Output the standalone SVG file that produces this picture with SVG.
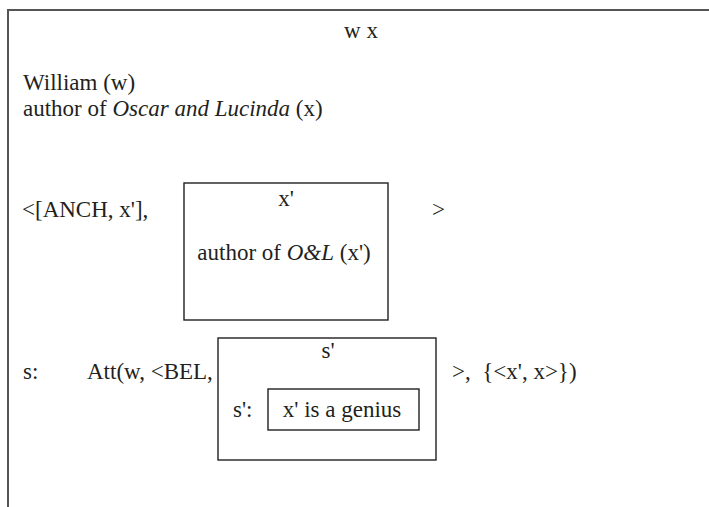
<svg xmlns="http://www.w3.org/2000/svg" width="709" height="507" viewBox="0 0 709 507">
<style>
text{font-family:"Liberation Serif","Times New Roman",serif;font-size:23px;fill:#231f20}
.i{font-style:italic}
.frame{fill:none;stroke:#555;stroke-width:2}
.box{fill:none;stroke:#231f20;stroke-width:1.4}
</style>
<rect width="709" height="507" fill="#fff"/>
<g id="frame">
<polyline class="frame" points="8,507 8,10 709,10"/>
<text x="361" y="38" text-anchor="middle">w x</text>
<text x="23" y="90">William (w)</text>
<text x="23" y="116">author of <tspan class="i">Oscar and Lucinda</tspan> (x)</text>
</g>
<g id="anchor">
<text x="22" y="217">&lt;[ANCH, x'],</text>
<text x="432" y="217">&gt;</text>
</g>
<g id="drs-x">
<rect class="box" x="184" y="183" width="204" height="137"/>
<text x="286" y="206" text-anchor="middle">x'</text>
<text x="284" y="260" text-anchor="middle">author of <tspan class="i">O&amp;L</tspan> (x')</text>
</g>
<g id="state">
<text x="23" y="379">s:</text>
<text x="87" y="379">Att(w, &lt;BEL,</text>
<text x="452" y="379" xml:space="preserve" style="white-space:pre">&gt;,  {&lt;x', x&gt;})</text>
</g>
<g id="drs-s">
<rect class="box" x="218" y="338" width="218" height="122"/>
<text x="328" y="358" text-anchor="middle">s'</text>
<text x="233" y="417">s':</text>
</g>
<g id="genius">
<rect class="box" x="268" y="389" width="151" height="41"/>
<text x="342" y="417" text-anchor="middle">x' is a genius</text>
</g>
</svg>
